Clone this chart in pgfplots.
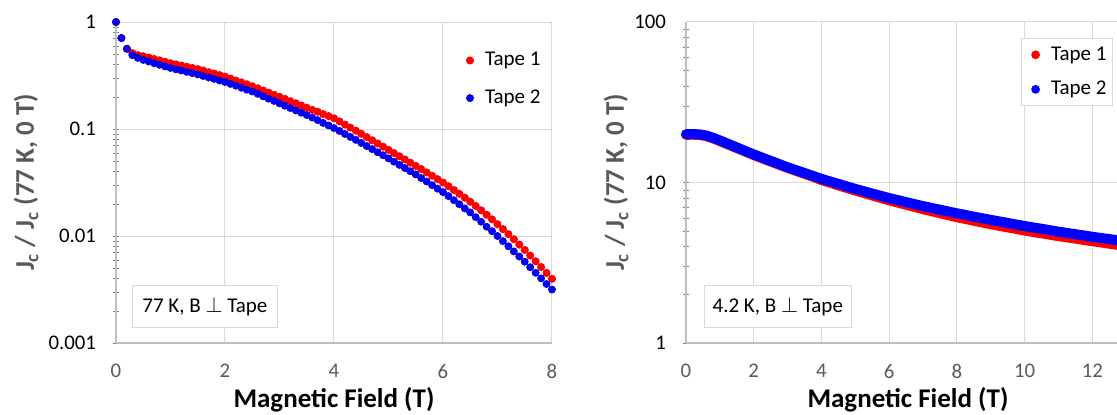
\documentclass[border=0pt]{standalone}
\usepackage{pgfplots}
\pgfplotsset{compat=1.18}
\usepackage{pgfplotstable}
\usepackage{fontspec}
\setmainfont{Carlito}
\definecolor{tapeA}{HTML}{FF0000}
\definecolor{tapeB}{HTML}{0000FF}
\definecolor{gridc}{HTML}{D9D9D9}
\definecolor{axisc}{HTML}{BFBFBF}
\definecolor{labc}{HTML}{595959}

% 77 K, normalised Jc vs field
\pgfplotstableread{
x y
0 1
0.1 0.708
0.2 0.562
0.3 0.513
0.4 0.490
0.5 0.479
0.6 0.465
0.7 0.451
0.8 0.438
0.9 0.425
1.0 0.412
1.1 0.402
1.2 0.392
1.3 0.382
1.4 0.372
1.5 0.363
1.6 0.352
1.7 0.340
1.8 0.330
1.9 0.319
2.0 0.309
2.1 0.296
2.2 0.284
2.3 0.273
2.4 0.262
2.5 0.251
2.6 0.240
2.7 0.229
2.8 0.219
2.9 0.209
3.0 0.200
3.1 0.191
3.2 0.182
3.3 0.174
3.4 0.166
3.5 0.158
3.6 0.151
3.7 0.145
3.8 0.138
3.9 0.132
4.0 0.126
4.1 0.118
4.2 0.110
4.3 0.103
4.4 0.0964
4.5 0.0902
4.6 0.0841
4.7 0.0785
4.8 0.0733
4.9 0.0684
5.0 0.0638
5.1 0.0596
5.2 0.0556
5.3 0.0519
5.4 0.0484
5.5 0.0452
5.6 0.0422
5.7 0.0393
5.8 0.0366
5.9 0.0340
6.0 0.0316
6.1 0.0292
6.2 0.0269
6.3 0.0248
6.4 0.0228
6.5 0.0209
6.6 0.0191
6.7 0.0174
6.8 0.0158
6.9 0.0143
7.0 0.0129
7.1 0.0116
7.2 0.0104
7.3 0.00933
7.4 0.00832
7.5 0.00741
7.6 0.00656
7.7 0.00581
7.8 0.00513
7.9 0.00452
8.0 0.00398
}\lowA

\pgfplotstableread{
x y
0 1
0.1 0.708
0.2 0.562
0.3 0.490
0.4 0.462
0.5 0.442
0.6 0.427
0.7 0.412
0.8 0.398
0.9 0.385
1.0 0.372
1.1 0.361
1.2 0.352
1.3 0.342
1.4 0.333
1.5 0.324
1.6 0.313
1.7 0.303
1.8 0.294
1.9 0.284
2.0 0.275
2.1 0.264
2.2 0.254
2.3 0.243
2.4 0.233
2.5 0.224
2.6 0.213
2.7 0.202
2.8 0.192
2.9 0.183
3.0 0.174
3.1 0.165
3.2 0.157
3.3 0.149
3.4 0.142
3.5 0.135
3.6 0.128
3.7 0.121
3.8 0.114
3.9 0.108
4.0 0.102
4.1 0.0959
4.2 0.0899
4.3 0.0843
4.4 0.0791
4.5 0.0741
4.6 0.0693
4.7 0.0649
4.8 0.0607
4.9 0.0568
5.0 0.0531
5.1 0.0495
5.2 0.0462
5.3 0.0432
5.4 0.0403
5.5 0.0376
5.6 0.0348
5.7 0.0323
5.8 0.0299
5.9 0.0277
6.0 0.0257
6.1 0.0236
6.2 0.0216
6.3 0.0198
6.4 0.0181
6.5 0.0166
6.6 0.0150
6.7 0.0136
6.8 0.0122
6.9 0.0111
7.0 0.0100
7.1 0.00895
7.2 0.00802
7.3 0.00718
7.4 0.00643
7.5 0.00575
7.6 0.00511
7.7 0.00453
7.8 0.00402
7.9 0.00356
8.0 0.00316
}\lowB

% 4.2 K
\pgfplotstableread{
x y
0.0 19.82
0.2 19.86
0.4 19.77
0.6 19.45
0.8 18.84
1.0 18.11
1.2 17.40
1.4 16.72
1.6 16.06
1.8 15.43
2.0 14.83
2.2 14.29
2.4 13.77
2.6 13.27
2.8 12.79
3.0 12.33
3.2 11.92
3.4 11.52
3.6 11.13
3.8 10.76
4.0 10.35
4.2 10.05
4.4 9.75
4.6 9.46
4.8 9.18
5.0 8.91
5.2 8.67
5.4 8.43
5.6 8.19
5.8 7.97
6.0 7.74
6.2 7.55
6.4 7.36
6.6 7.18
6.8 7.00
7.0 6.82
7.2 6.67
7.4 6.52
7.6 6.37
7.8 6.22
8.0 6.08
8.2 5.96
8.4 5.84
8.6 5.72
8.8 5.61
9.0 5.50
9.2 5.40
9.4 5.30
9.6 5.21
9.8 5.12
10.0 5.02
10.2 4.94
10.4 4.86
10.6 4.79
10.8 4.71
11.0 4.63
11.2 4.57
11.4 4.50
11.6 4.44
11.8 4.37
12.0 4.31
12.2 4.25
12.4 4.19
12.6 4.13
12.8 4.07
13.0 4.02
}\highA

\pgfplotstableread{
x y
0.0 20.00
0.2 20.04
0.4 19.95
0.6 19.63
0.8 19.01
1.0 18.28
1.2 17.57
1.4 16.88
1.6 16.21
1.8 15.57
2.0 14.96
2.2 14.42
2.4 13.90
2.6 13.40
2.8 12.91
3.0 12.45
3.2 12.04
3.4 11.65
3.6 11.27
3.8 10.90
4.0 10.54
4.2 10.24
4.4 9.95
4.6 9.66
4.8 9.39
5.0 9.12
5.2 8.89
5.4 8.65
5.6 8.43
5.8 8.21
6.0 8.00
6.2 7.82
6.4 7.64
6.6 7.46
6.8 7.29
7.0 7.13
7.2 6.98
7.4 6.84
7.6 6.70
7.8 6.56
8.0 6.43
8.2 6.31
8.4 6.19
8.6 6.07
8.8 5.96
9.0 5.85
9.2 5.75
9.4 5.65
9.6 5.55
9.8 5.45
10.0 5.36
10.2 5.27
10.4 5.19
10.6 5.11
10.8 5.02
11.0 4.94
11.2 4.87
11.4 4.80
11.6 4.73
11.8 4.66
12.0 4.59
12.2 4.53
12.4 4.47
12.6 4.41
12.8 4.35
13.0 4.29
}\highB

\pgfplotsset{
  panel/.style={
    scale only axis, height=160.5pt,
    axis lines=left, axis line style={-, draw=axisc, line width=0.8pt},
    grid=major, major grid style={draw=gridc, line width=0.5pt},
    major tick length=0pt,
    clip=false,
    /pgf/number format/assume math mode=true,
    xticklabel style={font=\fontsize{10.4}{12}\selectfont, text=labc, yshift=-7pt},
    yticklabel style={font=\fontsize{10.4}{12}\selectfont, text=black, xshift=-6.5pt},
    xlabel={\textbf{Magnetic Field (T)}},
    ylabel={\textbf{J\textsubscript{c} / J\textsubscript{c} (77 K, 0 T)}},
    xlabel style={font=\fontsize{13.5}{16}\selectfont, text=black, anchor=center},
    ylabel style={font=\fontsize{13.5}{16}\selectfont, text=labc, anchor=center},
    legend cell align=left,
  },
}
\tikzset{
  notebox/.style={draw=gridc, fill=white, line width=0.5pt, minimum width=72.5pt,
    minimum height=21pt, inner sep=0pt, font=\fontsize{10.5}{12}\selectfont},
}

\begin{document}
\begin{tikzpicture}
\useasboundingbox (0,0) rectangle (558.5pt,207pt);

\begin{semilogyaxis}[panel, at={(58pt,35.5pt)}, anchor=south west, width=218pt,
  xmin=0, xmax=8, ymin=0.001, ymax=1,
  xtick={0,2,4,6,8}, ytick={0.001,0.01,0.1,1}, yticklabels={0.001,0.01,0.1,1},
  xlabel style={at={(axis description cs:0.5,-0.178)}},
  ylabel style={at={(axis description cs:-0.206,0.5)}},
  legend style={at={(0.789,0.932)}, anchor=north west, draw=none, fill=none,
    font=\fontsize{10.5}{12}\selectfont, row sep=6.5pt},
  legend image code/.code={\draw[#1] plot coordinates {(0cm,0cm)}; \path (5.3pt,0pt);},
]
\addplot[only marks, mark=*, mark size=1.8pt, color=tapeA] table {\lowA};
\addlegendentry{Tape 1}
\addplot[only marks, mark=*, mark size=1.8pt, color=tapeB, mark options={draw=tapeB!80!black, line width=0.3pt, fill=tapeB}] table {\lowB};
\addlegendentry{Tape 2}
\node[notebox] at (rel axis cs:0.204,0.115) {77 K, B $\perp$ Tape};
\end{semilogyaxis}

\begin{semilogyaxis}[panel, at={(343pt,35.5pt)}, anchor=south west, width=215.5pt,
  xmin=0, xmax=12.73, ymin=1, ymax=100,
  xtick={0,2,4,6,8,10,12}, ytick={1,10,100}, yticklabels={1,10,100},
  xlabel style={at={(axis description cs:0.515,-0.178)}},
  ylabel style={at={(axis description cs:-0.162,0.5)}},
  legend style={at={(0.777,0.950)}, anchor=north west, draw=gridc, fill=white,
    line width=0.5pt, inner xsep=1pt, font=\fontsize{10.5}{12}\selectfont, row sep=5pt},
]
\addplot[draw=tapeA, line width=5pt, line cap=round, line join=round,
  legend image code/.code={\path[fill=tapeA, draw=none] (0pt,0pt) circle (2.2pt); \path (-3.6pt,0pt) (3.2pt,0pt);}] table {\highA};
\addlegendentry{Tape 1}
\addplot[draw=tapeB, line width=5pt, line cap=round, line join=round,
  legend image code/.code={\path[fill=tapeB, draw=none] (0pt,0pt) circle (2.2pt); \path (-3.6pt,0pt) (3.2pt,0pt);}] table {\highB};
\addlegendentry{Tape 2}
\node[notebox, minimum width=73.5pt] at (rel axis cs:0.213,0.115) {4.2 K, B $\perp$ Tape};
\end{semilogyaxis}
\end{tikzpicture}
\end{document}
